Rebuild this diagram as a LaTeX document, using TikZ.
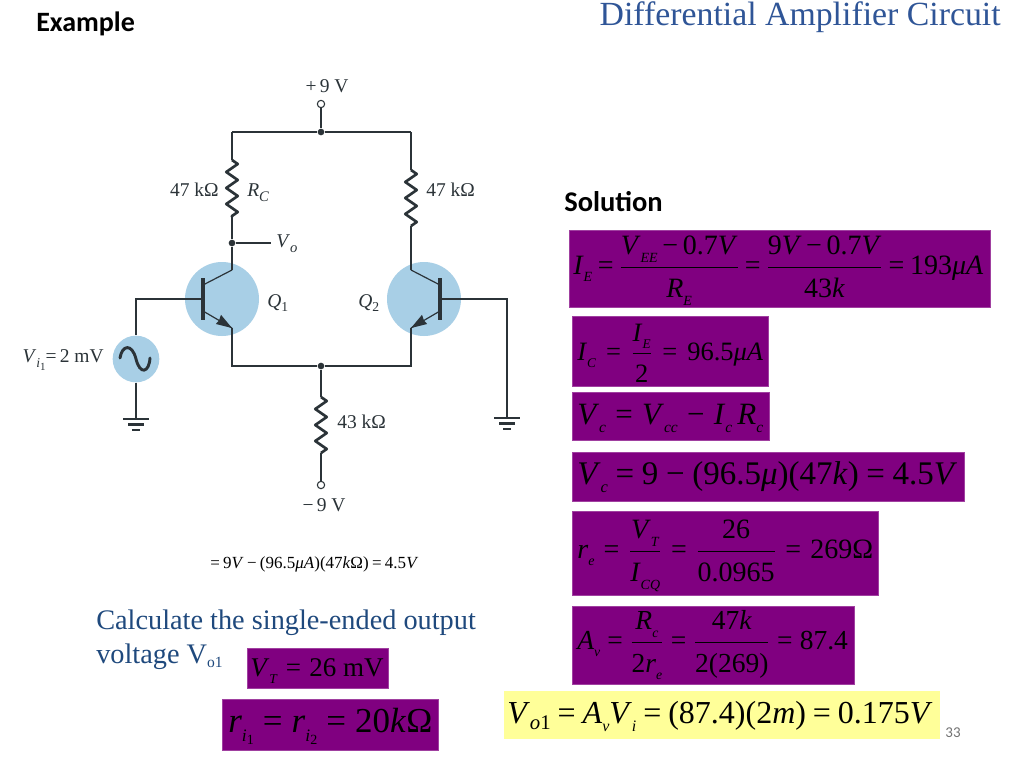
\documentclass[tikz,border=0pt]{standalone}
\usepackage{fontspec}
\usepackage{graphicx}
\setmainfont{Liberation Serif}
\newfontfamily\carlito{Carlito}
\usetikzlibrary{decorations.pathmorphing}
\definecolor{purp}{HTML}{800080}
\definecolor{yell}{HTML}{FFFF99}
\definecolor{titleblue}{HTML}{2F5597}
\definecolor{textblue}{HTML}{1F497D}
\definecolor{ckt}{HTML}{2B3338}
\definecolor{bulb}{HTML}{A8CFE6}
\newcommand\fs[1]{\fontsize{\dimexpr#1pt*3/4\relax}{\dimexpr#1pt*9/10\relax}\selectfont}
\newcommand\iv[1]{\textit{#1}}
\newcommand\sbs[1]{\raisebox{-.27em}{\scalebox{.5}{\textit{#1}}}}
\newcommand\fr[2]{${\displaystyle\mbox{#1\rule[-.4em]{0pt}{0pt}}\above .6pt\mbox{\rule{0pt}{1.05em}#2}}$}
\newcommand\eqn[2]{\makebox[#1][s]{#2}}
\newcommand\mc{\textit{μ}}
\tikzset{
  boxp/.style={fill=purp,draw=purp!75!white,line width=.5pt,minimum width=#1,inner sep=0pt},
  boxy/.style={fill=yell,inner sep=0pt},
  eqnode/.style={anchor=base west,inner sep=0pt,text=black,font=\fs{#1}},
  wire/.style={draw=ckt,line width=.9pt},
  res/.style={draw=ckt,line width=2pt,line join=round,decorate,decoration={zigzag,segment length=12pt,amplitude=4.3pt}},
  bar/.style={draw=ckt,line width=3.2pt},
  bulbc/.style={circle,fill=bulb,draw=none,inner sep=0pt},
  dotn/.style={circle,fill=ckt,inner sep=0pt,minimum size=5pt},
  opn/.style={circle,draw=ckt,fill=white,line width=.8pt,inner sep=0pt,minimum size=5.5pt},
  lab/.style={text=ckt,inner sep=0pt,font=\fs{19.5}},
  gnd/.style={draw=ckt,line width=1.8pt},
}
\begin{document}
\begin{tikzpicture}[x=.75pt,y=-.75pt]
\useasboundingbox (0,0) rectangle (1024,768);
\fill[white] (0,0) rectangle (1024,768);
% headings
\node[anchor=west,inner sep=0pt,font=\carlito\bfseries\fs{28}] (ex) at (36,23.5) {Example};
\node[anchor=east,inner sep=0pt,text=titleblue,font=\fs{33.8}] (title) at (1001,17.5) {Differential Amplifier Circuit};
\node[anchor=west,inner sep=0pt,font=\carlito\bfseries\fs{28.5}] (sol) at (564,202) {Solution};
% circuit
\node[bulbc,minimum size=55.5pt] (q1c) at (222,299) {};
\node[bulbc,minimum size=55.5pt] (q2c) at (424,299) {};
\node[bulbc,minimum size=35pt] (src) at (136,359) {};
\node[opn] (vp) at (321,104) {};
\node[dotn] (jt) at (321,132) {};
\node[dotn] (jb) at (321,366) {};
\node[dotn] (vo) at (232,243) {};
\node[opn] (vm) at (321,485) {};
\coordinate (tl) at (232,132); \coordinate (tr) at (411,132);
\coordinate (r1a) at (232,160); \coordinate (r1b) at (232,217);
\coordinate (r2a) at (411,170); \coordinate (r2b) at (411,226);
\coordinate (r3a) at (321,397); \coordinate (r3b) at (321,453);
\coordinate (c1) at (232,270); \coordinate (e1) at (232,328);
\coordinate (c2) at (411,270); \coordinate (e2) at (411,328);
\coordinate (bl) at (232,366); \coordinate (br) at (411,366);
\coordinate (b1) at (203,299); \coordinate (b2) at (440,299);
\coordinate (bw) at (136,299); \coordinate (be) at (507,299);
\coordinate (vot) at (271,243);
\coordinate (g1) at (136,419); \coordinate (g2) at (507,418);
\coordinate (bc1) at (203,285); \coordinate (be1) at (203,311);
\coordinate (bc2) at (440,285); \coordinate (be2) at (440,311);
\path[wire] (vp) -- (jt) (tl) -- (jt) -- (tr) (tl) -- (r1a) (tr) -- (r2a);
\path[wire] (r1b) -- (vo) -- (c1) (vo) -- (vot) (r2b) -- (c2);
\path[wire] (c1) -- (bc1) (c2) -- (bc2);
\path[wire] (e1) -- (bl) -- (jb) -- (br) -- (e2) (jb) -- (r3a) (r3b) -- (vm);
\path[wire] (b1) -- (bw) -- (src) (src) -- (g1) (b2) -- (be) -- (g2);
\path[res] (r1a) -- (r1b);
\path[res] (r2a) -- (r2b);
\path[res] (r3a) -- (r3b);
\path[bar] (203,278) -- (203,320);
\path[bar] (440,278) -- (440,320);
\path[wire] (be1) -- (e1);
\path[wire] (be2) -- (e2);
\fill[ckt] (e1) -- (221,314.8) -- (219,320.5) -- (215.8,324) -- cycle;
\fill[ckt] (e2) -- (422,314.8) -- (424,320.5) -- (427.2,324) -- cycle;
\draw[draw=ckt,line width=2.2pt,line cap=round] (120,358) .. controls (122,345) and (132,343) .. (136,359) .. controls (140,375) and (149,373) .. (150,358);
% grounds
\foreach \g in {g1,g2}{
  \path[gnd] (\g)++(-13,0) -- ++(26,0);
  \path[gnd] (\g)++(-8,5.5) -- ++(16,0);
  \path[gnd] (\g)++(-4,11) -- ++(8,0);
}
% circuit labels
\node[lab] (l9p) at (327,86) {+\,9 V};
\node[lab] (l9m) at (324,505) {\textminus\,9 V};
\node[lab,anchor=east] (l47a) at (219,190) {47 kΩ};
\node[lab,anchor=west] (lrc) at (247,193) {\iv{R}\raisebox{-.25em}{\scalebox{.75}{\iv{C}}}};
\node[lab,anchor=west] (l47b) at (426,190) {47 kΩ};
\node[lab,anchor=west] (lvo) at (276,244) {\iv{V}\raisebox{-.25em}{\scalebox{.75}{\iv{o}}}};
\node[lab,anchor=west] (lq1) at (267,303) {\iv{Q}\raisebox{-.25em}{\scalebox{.7}{1}}};
\node[lab,anchor=west] (lq2) at (358,303) {\iv{Q}\raisebox{-.25em}{\scalebox{.7}{2}}};
\node[lab,anchor=west] (l43) at (337,422) {43 kΩ};
\node[lab,anchor=east] (lvi) at (104,360) {\iv{V}\raisebox{-.25em}{\scalebox{.7}{\iv{i}\raisebox{-.2em}{\scalebox{.8}{1}}}}=\,2 mV};
% bottom left text
\node[eqnode=17] (eqa) at (210,568) {\eqn{156pt}{=\hfill9\iv{V}\hfill\textminus\hfill(96.5\mc\iv{A})(47\iv{k}Ω)\hfill=\hfill4.5\iv{V}}};
\node[anchor=base west,inner sep=0pt,text=textblue,font=\fs{28.3}] (calc) at (96,629) {Calculate the single-ended output};
\node[anchor=base west,inner sep=0pt,text=textblue,font=\fs{28.3}] (calc2) at (96,663) {voltage V\raisebox{-.15em}{\scalebox{.55}{o1}}};
% purple boxes
\node[boxp=315.5pt,minimum height=57.5pt] (b1x) at (779.5,268.5) {};
\node[boxp=147pt,minimum height=52.5pt] (b2x) at (670,351) {};
\node[boxp=147.5pt,minimum height=36pt] (b3x) at (670.5,416) {};
\node[boxp=294pt,minimum height=37pt] (b4x) at (768,476.5) {};
\node[boxp=229.5pt,minimum height=63pt] (b5x) at (725,553) {};
\node[boxp=211.5pt,minimum height=58.5pt] (b6x) at (713,645) {};
\node[boxy,draw=none,minimum width=327pt,minimum height=36pt] (b7x) at (722,715) {};
\node[boxp=105.5pt,minimum height=30pt] (b8x) at (317.5,668) {};
\node[boxp=162pt,minimum height=38pt] (b9x) at (330,724.5) {};
% equations
\node[eqnode=28] (q1) at (573,274) {\eqn{307.5pt}{\iv{I}\sbs{E}\hfill=\hfill\fr{\iv{V}\sbs{EE}\,\textminus\,0.7\iv{V}}{\iv{R}\sbs{E}}\hfill=\hfill\fr{9\iv{V}\,\textminus\,0.7\iv{V}}{43\iv{k}}\hfill=\hfill193\mc\iv{A}}};
\node[eqnode=26.5] (q2) at (577,360) {\eqn{139.5pt}{\iv{I}\sbs{C}\hfill=\hfill\fr{\iv{I}\sbs{E}}{2}\hfill=\hfill96.5\mc\iv{A}}};
\node[eqnode=31] (q3) at (577,424) {\eqn{139.5pt}{\iv{V}\sbs{c}\hfill=\hfill\iv{V}\sbs{cc}\hfill\textminus\hfill\iv{I}\sbs{c}\,\iv{R}\sbs{c}}};
\node[eqnode=33] (q4) at (577,484) {\eqn{285pt}{\iv{V}\sbs{c}\hfill=\hfill9\hfill\textminus\hfill(96.5\mc)(47\iv{k})\hfill=\hfill4.5\iv{V}}};
\node[eqnode=28] (q5) at (577,558) {\eqn{222pt}{\iv{r}\sbs{e}\hfill=\hfill\fr{\iv{V}\sbs{T}}{\iv{I}\sbs{CQ}}\hfill=\hfill\fr{26}{0.0965}\hfill=\hfill269Ω}};
\node[eqnode=27.5] (q6) at (577,649) {\eqn{203pt}{\iv{A}\sbs{v}\hfill=\hfill\fr{\iv{R}\sbs{c}}{2\iv{r}\sbs{e}}\hfill=\hfill\fr{47\iv{k}}{2(269)}\hfill=\hfill87.4}};
\node[eqnode=32] (q7) at (507,723) {\eqn{319pt}{\iv{V}\raisebox{-.2em}{\scalebox{.65}{\iv{o}1}}\hfill=\hfill\iv{A}\sbs{v}\iv{V}\sbs{i}\hfill=\hfill(87.4)(2\iv{m})\hfill=\hfill0.175\iv{V}}};
\node[eqnode=27] (q8) at (250,676) {\eqn{100pt}{\iv{V}\sbs{T}\hfill=\hfill26 mV}};
\node[eqnode=35] (q9) at (228,732) {\eqn{153pt}{\iv{r}\sbs{\iv{i}\raisebox{-.2em}{\scalebox{.8}{\textup{1}}}}\hfill=\hfill\iv{r}\sbs{\iv{i}\raisebox{-.2em}{\scalebox{.8}{\textup{2}}}}\hfill=\hfill20\iv{k}Ω}};
\node[anchor=center,inner sep=0pt,text=black!55,font=\carlito\fs{15}] (pg) at (953,733) {33};
\end{tikzpicture}
\end{document}
